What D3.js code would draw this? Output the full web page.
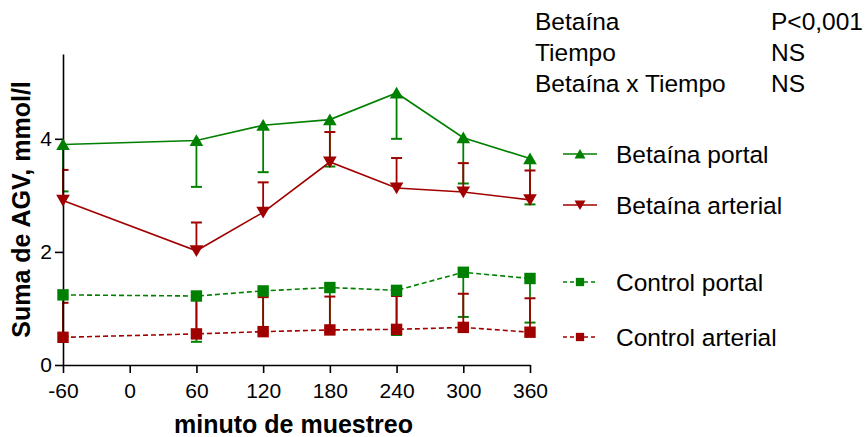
<!DOCTYPE html>
<html>
<head>
<meta charset="utf-8">
<script src="https://cdn.jsdelivr.net/npm/d3@7"></script>
<style>
  body { margin: 0; background: #fff; }
  text { font-family: "Liberation Sans", Arial, sans-serif; fill: #000; }
</style>
</head>
<body>
<div class="canvas"></div>
<script>
// data
const minutos = [-60, 60, 120, 180, 240, 300, 360];
const xTicks = [-60, 0, 60, 120, 180, 240, 300, 360];
const yTicks = [0, 2, 4];

const betainaPortal = [3.90, 3.97, 4.24, 4.34, 4.81, 4.02, 3.65];
const betainaPortalLow = [3.07, 3.15, 3.41, 3.51, 4.00, 3.21, 2.84];
const betainaArterial = [2.91, 2.02, 2.70, 3.59, 3.13, 3.06, 2.92];
const betainaArterialHigh = [3.45, 2.52, 3.23, 4.12, 3.66, 3.57, 3.44];
const controlPortal = [1.24, 1.22, 1.31, 1.37, 1.32, 1.64, 1.53];
const controlPortalLow = [0.50, 0.41, 0.58, 0.60, 0.53, 0.85, 0.75];
const controlArterial = [0.49, 0.55, 0.59, 0.62, 0.63, 0.665, 0.58];
const controlArterialHigh = [1.10, 1.15, 1.20, 1.21, 1.22, 1.26, 1.18];

const statLabels = ['Betaína', 'Tiempo', 'Betaína x Tiempo'];
const statValues = ['P<0,001', 'NS', 'NS'];

const green = '#008000', red = '#a00000';

const series = [
  {name: 'Betaína portal', values: betainaPortal, err: betainaPortalLow, color: green, shape: 'up', dash: null},
  {name: 'Betaína arterial', values: betainaArterial, err: betainaArterialHigh, color: red, shape: 'down', dash: null},
  {name: 'Control portal', values: controlPortal, err: controlPortalLow, color: green, shape: 'square', dash: '5,3'},
  {name: 'Control arterial', values: controlArterial, err: controlArterialHigh, color: red, shape: 'square', dash: '5,3'}
];

var margin = {top: 54, right: 337, bottom: 72, left: 63},
  width = 867 - margin.left - margin.right,
  height = 437 - margin.top - margin.bottom;

var svg = d3.select('.canvas')
  .append('svg')
  .attr('width', 867)
  .attr('height', 437);

const graph = svg.append('g')
  .attr('transform', `translate(${margin.left},${margin.top})`);

// scales
const x = d3.scaleLinear().domain([-60, 360]).range([0, width]);
const y = d3.scaleLinear().domain([0, 5.5]).range([height, 0]);

// marker shapes
const marker = (shape, s) => {
  if (shape === 'up') return `M0,${-s}L${s * 1.1},${s * 0.9}L${-s * 1.1},${s * 0.9}Z`;
  if (shape === 'down') return `M0,${s}L${s * 1.1},${-s * 0.9}L${-s * 1.1},${-s * 0.9}Z`;
  return `M${-s * 0.92},${-s * 0.92}h${s * 1.84}v${s * 1.84}h${-s * 1.84}Z`;
};

// error bars (control portal first so the arterial bars sit on top)
const errOrder = [series[0], series[2], series[1], series[3]];
errOrder.forEach(s => {
  const g = graph.append('g');
  minutos.forEach((m, i) => {
    const cx = x(m);
    g.append('line')
      .attr('x1', cx).attr('x2', cx)
      .attr('y1', y(s.values[i])).attr('y2', y(s.err[i]))
      .attr('stroke', s.color)
      .attr('stroke-width', 1.8);
    g.append('line')
      .attr('x1', Math.max(cx - 5.5, x(-60) - 1)).attr('x2', cx + 5.5)
      .attr('y1', y(s.err[i])).attr('y2', y(s.err[i]))
      .attr('stroke', s.color)
      .attr('stroke-width', 2);
  });
});

// lines
const line = d3.line()
  .x((d, i) => x(minutos[i]))
  .y(d => y(d));

series.forEach(s => {
  graph.append('path')
    .datum(s.values)
    .attr('fill', 'none')
    .attr('stroke', s.color)
    .attr('stroke-width', 1.6)
    .attr('stroke-dasharray', s.dash)
    .attr('d', line);
});

// axes
const xAxis = d3.axisBottom(x)
  .tickValues(xTicks)
  .tickFormat(d => String(d))
  .tickSize(8)
  .tickSizeOuter(0)
  .tickPadding(10);

const yAxis = d3.axisLeft(y)
  .tickValues(yTicks)
  .tickFormat(d => String(d))
  .tickSize(8)
  .tickSizeOuter(0)
  .tickPadding(3);

const xAxisGroup = graph.append('g')
  .attr('transform', `translate(0, ${height})`)
  .call(xAxis);

const yAxisGroup = graph.append('g')
  .call(yAxis);

[xAxisGroup, yAxisGroup].forEach(g => {
  g.selectAll('path, line').attr('stroke', '#000').attr('stroke-width', 1.6);
  g.selectAll('text')
    .attr('font-size', 21)
    .attr('font-family', '"Liberation Sans", Arial, sans-serif')
    .attr('fill', '#000');
});

// markers
series.forEach(s => {
  graph.append('g').selectAll('path')
    .data(s.values)
    .enter()
    .append('path')
      .attr('transform', (d, i) => `translate(${x(minutos[i])},${y(d)})`)
      .attr('d', marker(s.shape, 6.2))
      .attr('fill', s.color);
});

// axis titles
svg.append('text')
  .attr('x', margin.left + width / 2 - 3)
  .attr('y', 433)
  .attr('text-anchor', 'middle')
  .attr('font-size', 25)
  .attr('font-weight', 'bold')
  .text('minuto de muestreo');

svg.append('text')
  .attr('transform', `translate(30, ${margin.top + height / 2}) rotate(-90)`)
  .attr('text-anchor', 'middle')
  .attr('font-size', 25)
  .attr('font-weight', 'bold')
  .text('Suma de AGV, mmol/l');

// stats table
statLabels.forEach((t, i) => {
  svg.append('text')
    .attr('x', 535).attr('y', 30 + i * 31)
    .attr('font-size', 24.5)
    .text(t);
  svg.append('text')
    .attr('x', 771).attr('y', 30 + i * 31)
    .attr('font-size', 24.5)
    .text(statValues[i]);
});

// legend
const legendY = [154, 205, 282, 337];
const legend = svg.append('g');
series.forEach((s, i) => {
  const ly = legendY[i];
  legend.append('line')
    .attr('x1', 563).attr('x2', 597)
    .attr('y1', ly).attr('y2', ly)
    .attr('stroke', s.color)
    .attr('stroke-width', 1.6)
    .attr('stroke-dasharray', s.dash ? '4,3' : null);
  legend.append('path')
    .attr('transform', `translate(580,${ly})`)
    .attr('d', marker(s.shape, s.shape === 'square' ? 4.5 : 5))
    .attr('fill', s.color);
  legend.append('text')
    .attr('x', 616).attr('y', ly + 8.5)
    .attr('font-size', 24.5)
    .text(s.name);
});
</script>
</body>
</html>
